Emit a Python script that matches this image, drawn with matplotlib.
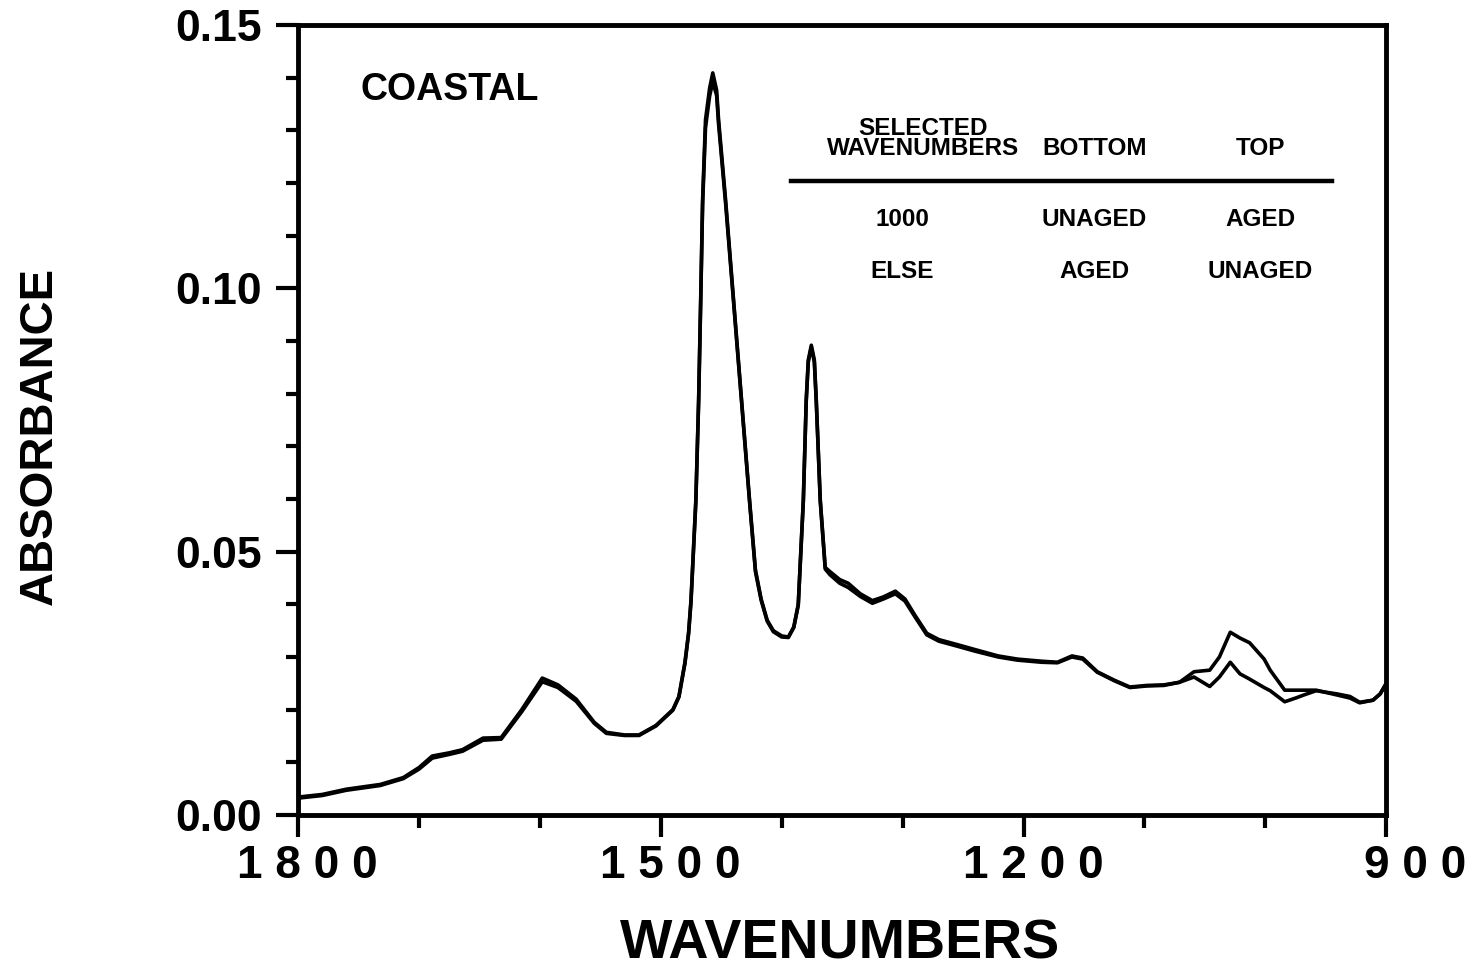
import numpy as np
import matplotlib
matplotlib.use("Agg")
import matplotlib.pyplot as plt
import matplotlib.transforms as mtransforms
from matplotlib.ticker import MultipleLocator, FuncFormatter

plt.rcParams['font.family'] = ['Liberation Sans', 'DejaVu Sans']
plt.rcParams['font.weight'] = 'bold'

# wavenumber grid (cm-1)
wavenumbers = [1800, 1780, 1760, 1732, 1713, 1700, 1689, 1675, 1664, 1647, 1632, 1615,
               1598, 1585, 1570, 1555, 1545, 1530, 1518, 1504, 1490, 1485, 1480, 1477,
               1475, 1471, 1468.7, 1467, 1465.4, 1463, 1459.6, 1457, 1453.8, 1452.2,
               1446.4, 1439.8, 1433.2, 1426.6, 1421.7, 1417, 1412, 1406.9, 1400, 1394.5,
               1390, 1386.3, 1382.1, 1379.7, 1378, 1375.5, 1373, 1371.4, 1368.1, 1364,
               1360, 1352, 1345, 1335, 1325, 1316, 1306, 1298, 1290, 1280, 1270, 1254,
               1240, 1221, 1205, 1185, 1172, 1160, 1151, 1139, 1125, 1112, 1098, 1084,
               1071, 1059, 1046, 1038, 1029, 1021, 1013, 1001, 996, 984, 975, 968, 958,
               941, 930, 922, 911, 905, 900]

unaged = [0.0034, 0.0039, 0.0049, 0.0058, 0.0071, 0.0090, 0.0112, 0.0118, 0.0124, 0.0146,
          0.0147, 0.0200, 0.0260, 0.0247, 0.0220, 0.0176, 0.0157, 0.0152, 0.0152, 0.0170,
          0.0200, 0.0225, 0.0290, 0.0346, 0.0408, 0.0598, 0.0788, 0.0978, 0.1168, 0.1320,
          0.1380, 0.1409, 0.1376, 0.1320, 0.1168, 0.0978, 0.0788, 0.0598, 0.0465, 0.0410,
          0.0370, 0.0350, 0.0340, 0.0338, 0.0357, 0.0400, 0.0598, 0.0788, 0.0864, 0.0892,
          0.0864, 0.0788, 0.0598, 0.0470, 0.0462, 0.0447, 0.0440, 0.0420, 0.0407, 0.0414,
          0.0425, 0.0410, 0.0380, 0.0345, 0.0333, 0.0323, 0.0314, 0.0302, 0.0296, 0.0292,
          0.0290, 0.0302, 0.0298, 0.0272, 0.0256, 0.0243, 0.0246, 0.0247, 0.0252, 0.0262,
          0.0244, 0.0262, 0.0290, 0.0268, 0.0258, 0.0242, 0.0236, 0.0215, 0.0222, 0.0228,
          0.0236, 0.0230, 0.0225, 0.0214, 0.0218, 0.0230, 0.0250]

aged = [0.0032, 0.0037, 0.0047, 0.0056, 0.0069, 0.0087, 0.0108, 0.0115, 0.0121, 0.0142,
        0.0144, 0.0196, 0.0253, 0.0242, 0.0216, 0.0174, 0.0155, 0.0151, 0.0151, 0.0169,
        0.0199, 0.0224, 0.0288, 0.0344, 0.0405, 0.0594, 0.0783, 0.0972, 0.1160, 0.1305,
        0.1365, 0.1392, 0.1366, 0.1312, 0.1162, 0.0974, 0.0785, 0.0596, 0.0462, 0.0408,
        0.0368, 0.0348, 0.0338, 0.0337, 0.0356, 0.0398, 0.0596, 0.0786, 0.0860, 0.0888,
        0.0860, 0.0785, 0.0596, 0.0467, 0.0456, 0.0440, 0.0432, 0.0415, 0.0402, 0.0410,
        0.0420, 0.0406, 0.0377, 0.0342, 0.0330, 0.0320, 0.0311, 0.0300, 0.0294, 0.0290,
        0.0289, 0.0300, 0.0296, 0.0271, 0.0255, 0.0242, 0.0245, 0.0246, 0.0252, 0.0272,
        0.0275, 0.0300, 0.0347, 0.0336, 0.0327, 0.0296, 0.0275, 0.0237, 0.0237, 0.0237,
        0.0237, 0.0228, 0.0222, 0.0213, 0.0218, 0.0230, 0.0250]

major_x = [1800, 1500, 1200, 900]
major_y = [0.00, 0.05, 0.10, 0.15]

table_header = ["SELECTED\nWAVENUMBERS", "BOTTOM", "TOP"]
table_rows = [["1000", "UNAGED", "AGED"],
              ["ELSE", "AGED", "UNAGED"]]

fig = plt.figure(figsize=(14.71, 9.75), dpi=100)
ax = fig.add_axes([0.2026, 0.1641, 0.7398, 0.8103])

ax.plot(wavenumbers, unaged, color='black', lw=2.6, solid_joinstyle='round')
ax.plot(wavenumbers, aged, color='black', lw=2.6, solid_joinstyle='round')

ax.set_xlim(1800, 900)
ax.set_ylim(0, 0.15)

for side in ['left', 'bottom', 'top', 'right']:
    ax.spines[side].set_linewidth(3.5)

ax.xaxis.set_major_locator(plt.FixedLocator(major_x))
ax.xaxis.set_minor_locator(MultipleLocator(100))
ax.yaxis.set_major_locator(plt.FixedLocator(major_y))
ax.yaxis.set_minor_locator(MultipleLocator(0.01))
ax.xaxis.set_major_formatter(FuncFormatter(lambda v, p: " ".join(str(int(round(v))))))
ax.yaxis.set_major_formatter(FuncFormatter(lambda v, p: f"{v:.2f}"))

ax.tick_params(axis='x', which='major', direction='out', length=16, width=3,
               labelsize=33, pad=5)
ax.tick_params(axis='x', which='minor', direction='out', length=9, width=3)
ax.tick_params(axis='y', which='major', direction='out', length=16, width=3,
               labelsize=32, pad=10)
ax.tick_params(axis='y', which='minor', direction='out', length=9, width=3)
for lab in ax.get_yticklabels():
    lab.set_fontweight('bold')
# x labels are right-justified in a fixed-width field, as in the original plotter
shift = mtransforms.ScaledTranslation(0.80, 0, fig.dpi_scale_trans)
for lab in ax.get_xticklabels():
    lab.set_fontweight('bold')
    lab.set_ha('right')
    lab.set_transform(lab.get_transform() + shift)

fig.text(0.571, 0.031, "WAVENUMBERS", ha='center', va='center', fontsize=40, fontweight='bold')
fig.text(0.027, 0.553, "ABSORBANCE", ha='center', va='center', rotation=90,
         fontsize=34, fontweight='bold')

ax.text(0.057, 0.918, "COASTAL", transform=ax.transAxes, fontsize=27,
        fontweight='bold', ha='left', va='center')

# selection table inside the plot
col_x = [0.572, 0.732, 0.884]
ax.text(col_x[0] + 0.002, 0.856, table_header[0], transform=ax.transAxes, ha='center',
        va='center', fontsize=17.5, fontweight='bold', linespacing=0.85)
ax.text(col_x[1], 0.844, table_header[1], transform=ax.transAxes, ha='center',
        va='center', fontsize=17.5, fontweight='bold')
ax.text(col_x[2], 0.844, table_header[2], transform=ax.transAxes, ha='center',
        va='center', fontsize=17.5, fontweight='bold')
ax.plot([0.453, 0.950], [0.803, 0.803], transform=ax.transAxes, color='black', lw=3.2)
row_y = [0.754, 0.688]
for r, row in enumerate(table_rows):
    xs = [0.555, col_x[1], col_x[2]]
    for c, txt in enumerate(row):
        ax.text(xs[c], row_y[r], txt, transform=ax.transAxes, ha='center', va='center',
                fontsize=17.5, fontweight='bold')

fig.savefig("out.png", dpi=100)
